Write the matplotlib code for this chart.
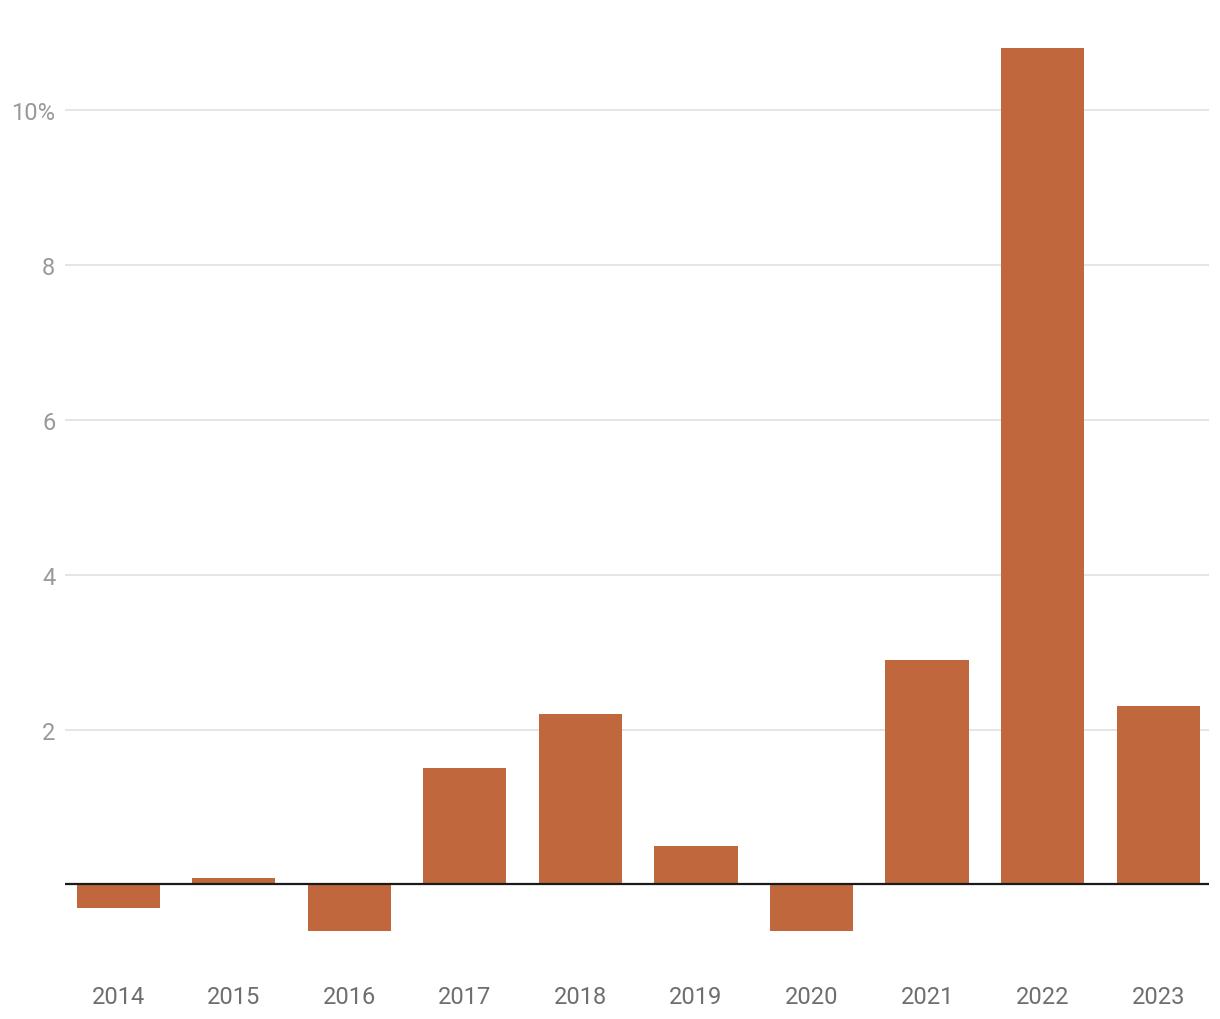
import matplotlib.pyplot as plt
from matplotlib.ticker import FuncFormatter

plt.rcParams['font.family'] = ['Roboto', 'DejaVu Sans']

years = ['2014', '2015', '2016', '2017', '2018', '2019', '2020', '2021', '2022', '2023']
values = [-0.3, 0.08, -0.6, 1.5, 2.2, 0.5, -0.6, 2.9, 10.8, 2.3]
y_ticks = [2, 4, 6, 8, 10]

fig = plt.figure(figsize=(12.2, 10.2), dpi=100)
ax = fig.add_axes([0.0533, 0.0485, 0.9377, 0.9258])

x = range(len(years))
ax.bar(x, values, width=0.72, color='#C0673E', zorder=3)
ax.axhline(0, color='#1a1a1a', linewidth=1.6, zorder=4)

ax.set_xlim(-0.46, 9.44)
ax.set_ylim(-1.1, 11.1)
ax.set_xticks(list(x))
ax.set_xticklabels(years)
ax.set_yticks(y_ticks)
ax.yaxis.set_major_formatter(FuncFormatter(lambda v, p: f'{v:.0f}%' if v == 10 else f'{v:.0f}'))

ax.grid(axis='y', color='#e3e3e3', linewidth=1.3, zorder=0)
for s in ax.spines.values():
    s.set_visible(False)
ax.tick_params(axis='both', length=0)
ax.tick_params(axis='y', labelsize=17, labelcolor='#999999', pad=7)
ax.tick_params(axis='x', labelsize=17, labelcolor='#6e6e6e', pad=11)

fig.savefig('out.png', dpi=100, facecolor='white')
